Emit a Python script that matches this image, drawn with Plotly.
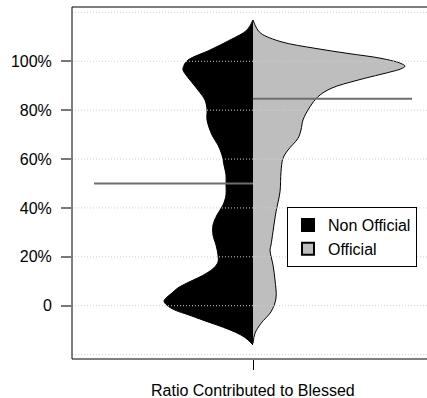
import plotly.graph_objects as go

# Bean outlines: vertical position (%) and half-width of the density
nonoff_pct = [116.9, 112.8, 108.7, 104.6, 100.5, 98.4, 96.4, 94.4, 92.3, 88.2,
              84.1, 80.1, 76.0, 69.8, 65.7, 61.6, 57.5, 53.5, 49.4, 45.3,
              41.2, 37.1, 33.0, 28.9, 24.8, 20.7, 17.9, 15.5, 13.4, 11.4,
              9.3, 7.3, 5.2, 3.5, 1.9, 0.2, -1.8, -3.8, -5.9, -7.9,
              -9.9, -12.0, -14.0, -16.1]
nonoff_width = [0, 6, 23, 43, 65, 69, 70, 67, 63, 55,
                48, 46, 46, 41, 35, 31, 29, 27, 27, 27,
                30, 36, 40, 40, 37, 35, 35, 39, 46, 55,
                66, 75, 81, 86, 89, 86, 78, 64, 50, 36,
                23, 12, 5, 0]

off_pct = [116.9, 114.0, 111.4, 108.0, 105.3, 103.2, 101.2, 99.1, 98.0, 96.9,
           95.7, 92.3, 88.9, 85.5, 81.4, 76.0, 71.9, 68.5, 63.7, 60.3,
           54.8, 46.6, 38.4, 30.3, 24.8, 22.8, 16.6, 10.5, 3.1, -2.5,
           -7.2, -11.3, -15.4]
off_width = [0, 3, 8, 28, 62, 95, 128, 148, 152, 148,
             138, 105, 78, 65, 57, 50, 48, 45, 35, 30,
             28, 27, 23, 20, 18, 17, 20, 22, 23, 18,
             8, 2, 0]

# Group means (%)
groups = ["Non Official", "Official"]
group_means = [50.0, 84.7]
group_fill = ["black", "#bebebe"]

# Y axis ticks
tick_vals = [0, 20, 40, 60, 80, 100]
tick_text = ["0", "20%", "40%", "60%", "80%", "100%"]
grid_vals = [-20, 0, 20, 40, 60, 80, 100, 120]

FONT = "Liberation Sans, Arial, Helvetica, sans-serif"
X_RANGE = [-181, 174]
Y_RANGE = [-21.8, 122.2]
MEAN_SPAN = 159

fig = go.Figure()

# Left half (Non Official)
fig.add_trace(go.Scatter(
    x=[-w for w in nonoff_width], y=nonoff_pct,
    mode="lines", line=dict(color="black", width=1, shape="spline", smoothing=1.0),
    fill="toself", fillcolor=group_fill[0], showlegend=False, hoverinfo="skip"))

# Right half (Official)
fig.add_trace(go.Scatter(
    x=off_width, y=off_pct,
    mode="lines", line=dict(color="black", width=1, shape="spline", smoothing=1.0),
    fill="toself", fillcolor=group_fill[1], showlegend=False, hoverinfo="skip"))

# Mean lines
fig.add_trace(go.Scatter(
    x=[-MEAN_SPAN, 0], y=[group_means[0]] * 2, mode="lines",
    line=dict(color="#6e6e6e", width=2), showlegend=False, hoverinfo="skip"))
fig.add_trace(go.Scatter(
    x=[0, MEAN_SPAN], y=[group_means[1]] * 2, mode="lines",
    line=dict(color="#6e6e6e", width=2), showlegend=False, hoverinfo="skip"))

# Legend entries
for name, col in zip(groups, group_fill):
    fig.add_trace(go.Scatter(
        x=[None], y=[None], mode="markers", name=name,
        marker=dict(symbol="square", size=12, color=col,
                    line=dict(color="black", width=1))))

shapes = []
# Dotted horizontal grid, drawn over the beans
for g in grid_vals:
    shapes.append(dict(type="line", xref="paper", yref="y", x0=0, x1=1, y0=g, y1=g,
                       line=dict(color="#d0d0d0", width=1, dash="1px,2px"),
                       layer="above"))
# Plot frame (left, top, bottom)
for x0, y0, x1, y1 in [(0, 0, 0, 1), (0, 1, 1, 1), (0, 0, 1, 0)]:
    shapes.append(dict(type="line", xref="paper", yref="paper",
                       x0=x0, y0=y0, x1=x1, y1=y1,
                       line=dict(color="black", width=1), layer="above"))

fig.update_layout(
    width=427, height=398,
    margin=dict(l=72, r=0, t=7, b=39),
    paper_bgcolor="white", plot_bgcolor="white",
    font=dict(family=FONT, size=16, color="black"),
    shapes=shapes,
    showlegend=True,
    legend=dict(x=(287 - 72) / 355, y=(359 - 207) / 352, xanchor="left", yanchor="top",
                bgcolor="white", bordercolor="black", borderwidth=1,
                font=dict(family=FONT, size=16, color="black"),
                itemsizing="constant", tracegroupgap=0),
    annotations=[dict(text="Ratio Contributed to Blessed", x=0, xref="x",
                      y=(359 - 390) / 352, yref="paper", yanchor="middle",
                      showarrow=False, font=dict(family=FONT, size=16))],
)

fig.update_xaxes(range=X_RANGE, showgrid=False, zeroline=False, showline=False,
                 tickvals=[0], ticktext=[""], ticks="outside", ticklen=10,
                 tickcolor="black", tickwidth=1, fixedrange=True)
fig.update_yaxes(range=Y_RANGE, showgrid=False, zeroline=False, showline=False,
                 tickvals=tick_vals, ticktext=tick_text, ticks="outside", ticklen=10,
                 tickcolor="#777777", tickwidth=2, ticklabelstandoff=6,
                 fixedrange=True)

fig.write_html("out.html")
